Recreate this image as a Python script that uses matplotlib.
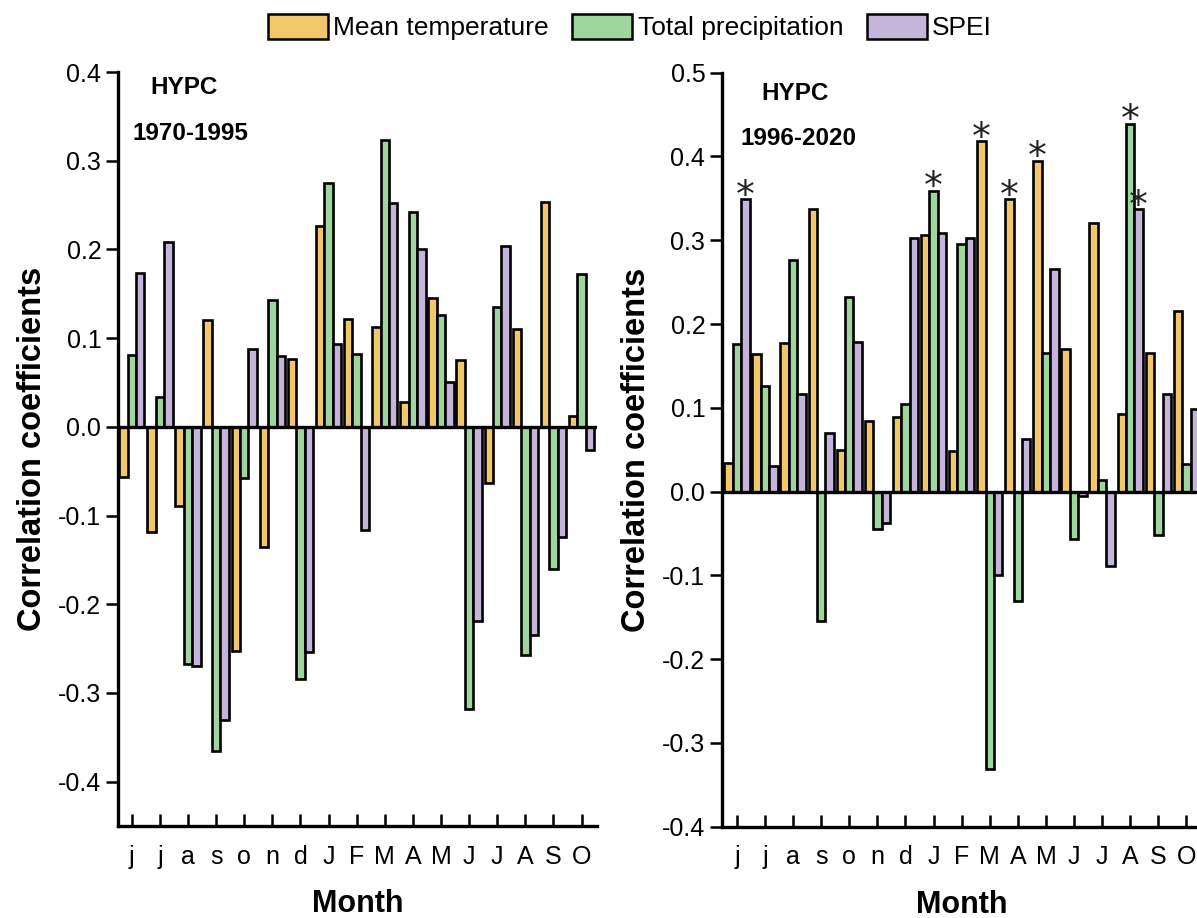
import matplotlib
matplotlib.use('Agg')
import matplotlib.pyplot as plt
from matplotlib.patches import Patch
from matplotlib.ticker import FormatStrFormatter
import numpy as np

# ---------------- data ----------------
months = ['j', 'j', 'a', 's', 'o', 'n', 'd', 'J', 'F', 'M', 'A', 'M', 'J', 'J', 'A', 'S', 'O']
series_names = ['Mean temperature', 'Total precipitation', 'SPEI']
colors = ['#F2C76C', '#9ED69D', '#C5B5DA']

temp_1970_1995 = [-0.057, -0.119, -0.089, 0.120, -0.253, -0.135, 0.076, 0.226, 0.121,
                  0.113, 0.028, 0.145, 0.075, -0.063, 0.110, 0.254, 0.012]
prec_1970_1995 = [0.081, 0.034, -0.267, -0.365, -0.058, 0.143, -0.284, 0.275, 0.082,
                  0.323, 0.242, 0.126, -0.318, 0.135, -0.257, -0.160, 0.172]
spei_1970_1995 = [0.173, 0.208, -0.270, -0.330, 0.088, 0.080, -0.254, 0.093, -0.116,
                  0.252, 0.200, 0.050, -0.219, 0.204, -0.235, -0.124, -0.026]

temp_1996_2020 = [0.034, 0.164, 0.177, 0.337, 0.050, 0.084, 0.089, 0.306, 0.049,
                  0.418, 0.349, 0.395, 0.170, 0.321, 0.093, 0.165, 0.215]
prec_1996_2020 = [0.176, 0.126, 0.276, -0.155, 0.232, -0.045, 0.105, 0.359, 0.296,
                  -0.331, -0.131, 0.165, -0.057, 0.014, 0.439, -0.052, 0.033]
spei_1996_2020 = [0.349, 0.030, 0.117, 0.070, 0.178, -0.038, 0.303, 0.309, 0.303,
                  -0.100, 0.063, 0.266, -0.005, -0.089, 0.337, 0.117, 0.099]

# significant months (indices) per series
sig_1970_1995 = [[], [], []]
sig_1996_2020 = [[9, 10, 11], [7, 14], [0, 14]]

yticks_1 = [-0.4, -0.3, -0.2, -0.1, 0.0, 0.1, 0.2, 0.3, 0.4]
yticks_2 = [-0.4, -0.3, -0.2, -0.1, 0.0, 0.1, 0.2, 0.3, 0.4, 0.5]

# ---------------- style ----------------
plt.rcParams['font.family'] = ['Liberation Sans', 'DejaVu Sans']
plt.rcParams['axes.unicode_minus'] = False

W, H = 1197, 918
fig = plt.figure(figsize=(W / 100, H / 100), dpi=100)
ax1 = fig.add_axes([118 / W, (H - 826) / H, 479 / W, 754 / H])
ax2 = fig.add_axes([722 / W, (H - 826.7) / H, 479 / W, 754 / H])


def draw(ax, data, sig, ylim, xlim, yticks):
    x = np.arange(len(months))
    w = 0.3
    for k, (vals, c) in enumerate(zip(data, colors)):
        ax.bar(x + (k - 1) * w, vals, w, color=c, edgecolor='black',
               linewidth=1.9, zorder=2)
        for i in sig[k]:
            ax.annotate('*', (x[i] + (k - 1) * w, vals[i]), xytext=(0, -5.5),
                        textcoords='offset points', ha='center', va='baseline',
                        fontsize=27, family='DejaVu Sans', color='#222222',
                        annotation_clip=False)
    ax.axhline(0, color='black', lw=2.4, zorder=3)
    ax.set_xlim(*xlim)
    ax.set_ylim(*ylim)
    ax.set_yticks(yticks)
    ax.yaxis.set_major_formatter(FormatStrFormatter('%.1f'))
    ax.set_xticks(x)
    ax.set_xticklabels(months)
    for s in ['top', 'right']:
        ax.spines[s].set_visible(False)
    for s in ['left', 'bottom']:
        ax.spines[s].set_linewidth(2.4)
    ax.tick_params(axis='y', direction='out', length=9, width=1.8,
                   labelsize=18, pad=3)
    ax.tick_params(axis='x', direction='in', length=9, width=1.8,
                   labelsize=18, pad=13.5)
    ax.set_xlabel('Month', fontsize=22, fontweight='bold')
    ax.xaxis.label.set_va('center')
    ax.xaxis.set_label_coords(0.5, (826 - 904) / 754)
    ax.set_ylabel('Correlation coefficients', fontsize=23.5, fontweight='bold')
    ax.yaxis.label.set_va('center')
    ax.yaxis.set_label_coords(-0.1795, 0.5)
    return ax


draw(ax1, [temp_1970_1995, prec_1970_1995, spei_1970_1995], sig_1970_1995,
     (-0.45, 0.4), (-0.49, 16.55), yticks_1)
draw(ax2, [temp_1996_2020, prec_1996_2020, spei_1996_2020], sig_1996_2020,
     (-0.4, 0.5), (-0.53, 16.52), yticks_2)

ax1.text(0.138, 0.979, 'HYPC', transform=ax1.transAxes, ha='center', va='center',
         fontsize=17.5, fontweight='bold')
ax1.text(0.152, 0.919, '1970-1995', transform=ax1.transAxes, ha='center', va='center',
         fontsize=17.5, fontweight='bold')
ax2.text(0.153, 0.973, 'HYPC', transform=ax2.transAxes, ha='center', va='center',
         fontsize=17.5, fontweight='bold')
ax2.text(0.160, 0.913, '1996-2020', transform=ax2.transAxes, ha='center', va='center',
         fontsize=17.5, fontweight='bold')

handles = [Patch(facecolor=c, edgecolor='black', linewidth=1.8, label=n)
           for c, n in zip(colors, series_names)]
fig.legend(handles=handles, loc='center', bbox_to_anchor=(630 / W, 1 - 27 / H),
           ncol=3, frameon=False, fontsize=19, handlelength=2.27, handleheight=1.1,
           handletextpad=0.2, columnspacing=0.9, borderpad=0, borderaxespad=0)

fig.savefig('out.png', dpi=100)
